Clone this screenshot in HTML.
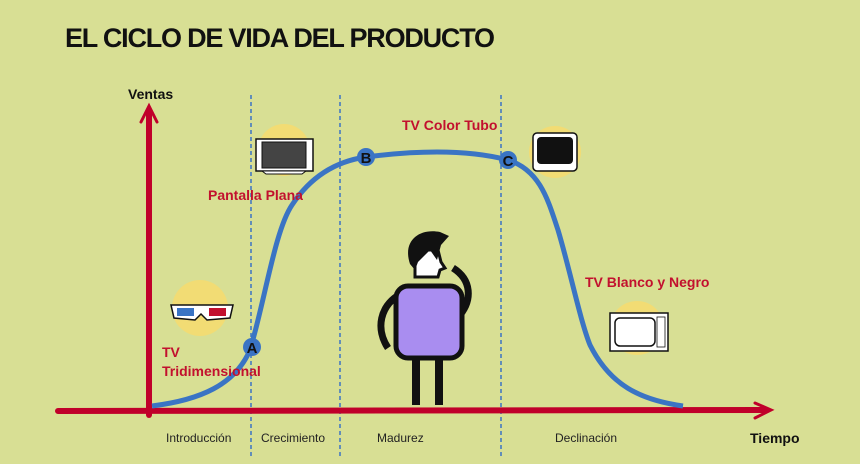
<!DOCTYPE html>
<html><head><meta charset="utf-8"><style>
body{margin:0;width:860px;height:459px;overflow:hidden;background:#d8df94;font-family:"Liberation Sans",sans-serif}
</style></head><body>
<svg width="860" height="459" viewBox="0 0 860 459" xmlns="http://www.w3.org/2000/svg">
<rect width="860" height="459" fill="#d8df94"/>
<text x="65" y="47" font-family="Liberation Sans" font-weight="bold" font-size="27" fill="#111" textLength="430">EL CICLO DE VIDA DEL PRODUCTO</text>
<g stroke="#3a74c4" stroke-width="1.5" stroke-dasharray="4,3">
<line x1="251" y1="95" x2="251" y2="459"/><line x1="340" y1="95" x2="340" y2="459"/><line x1="501" y1="95" x2="501" y2="459"/></g>
<g stroke="#c0002a" fill="none" stroke-linecap="round">
<path d="M149 415 L149 110" stroke-width="6"/>
<path d="M141 122 L149 106 L157 122" stroke-width="3"/>
<path d="M58 411 L765 410" stroke-width="6"/>
<path d="M755 403 L771 410 L755 418" stroke-width="3"/>
</g>
<text x="128" y="99" font-weight="bold" font-size="14" fill="#111">Ventas</text>
<text x="750" y="443" font-weight="bold" font-size="14" fill="#111">Tiempo</text>
<g font-size="12" fill="#222">
<text x="166" y="442">Introducción</text><text x="261" y="442">Crecimiento</text>
<text x="377" y="442">Madurez</text><text x="555" y="442">Declinación</text></g>
<g fill="#f2dc74"><circle cx="284" cy="150" r="26"/><circle cx="200" cy="308" r="28"/><circle cx="555" cy="152" r="26"/><circle cx="637" cy="328" r="27"/></g>
<path d="M152 406 C200 400 235 385 250 350 C265 300 275 230 292 205 C315 170 345 160 366 157 C420 150 470 150 508 160 C540 170 548 200 558 230 C570 270 580 320 590 345 C610 385 640 400 683 406" fill="none" stroke="#3a74c4" stroke-width="5"/>
<g font-weight="bold" font-size="15" fill="#111" text-anchor="middle">
<circle cx="252" cy="347" r="9" fill="#3a74c4"/><text x="252" y="353">A</text>
<circle cx="366" cy="157" r="9" fill="#3a74c4"/><text x="366" y="163">B</text>
<circle cx="508" cy="160" r="9" fill="#3a74c4"/><text x="508" y="166">C</text></g>
<g font-weight="bold" font-size="14" fill="#c2102e">
<text x="208" y="200">Pantalla Plana</text><text x="402" y="130">TV Color Tubo</text>
<text x="585" y="287">TV Blanco y Negro</text><text x="162" y="357">TV</text><text x="162" y="376">Tridimensional</text></g>
<rect x="256" y="139" width="57" height="32" fill="#fff" stroke="#111" stroke-width="1.5"/>
<rect x="262" y="142" width="44" height="26" fill="#444" stroke="#111"/>
<path d="M262 171 L306 171 L302 174 L266 174Z" fill="#fff" stroke="#111"/>
<rect x="533" y="133" width="44" height="38" rx="4" fill="#fff" stroke="#111" stroke-width="1.5"/>
<rect x="537" y="137" width="36" height="27" rx="4" fill="#111"/>
<path d="M171 305 L233 305 L230 318 L207 320 L201 314 L195 320 L174 318Z" fill="#fff" stroke="#111" stroke-width="1.5"/>
<rect x="177" y="308" width="17" height="8" fill="#3a74c4"/><rect x="209" y="308" width="17" height="8" fill="#c2102e"/>
<rect x="610" y="313" width="58" height="38" fill="#fff" stroke="#111" stroke-width="1.5"/>
<rect x="615" y="318" width="40" height="28" rx="5" fill="#fff" stroke="#111" stroke-width="1.5"/>
<rect x="657" y="317" width="8" height="30" fill="#fff" stroke="#111" stroke-width="0.8"/>
<!-- person -->
<rect x="412" y="355" width="8" height="50" fill="#111"/><rect x="435" y="355" width="8" height="50" fill="#111"/>
<path d="M404 292 C378 305 376 330 388 348" fill="none" stroke="#111" stroke-width="7"/>
<path d="M453 268 C472 280 472 300 460 315" fill="none" stroke="#111" stroke-width="7"/>
<rect x="396" y="286" width="66" height="72" rx="12" fill="#a98df0" stroke="#111" stroke-width="5"/>
<path d="M415 250 L438 250 L441 262 L445 268 L440 270 L438 277 L415 277Z" fill="#fff" stroke="#111" stroke-width="3"/>
<path d="M410 264 C402 240 420 228 440 232 L449 236 L441 245 L437 260 L430 250 L418 262 L415 270Z" fill="#111"/>
</svg>
</body></html>
